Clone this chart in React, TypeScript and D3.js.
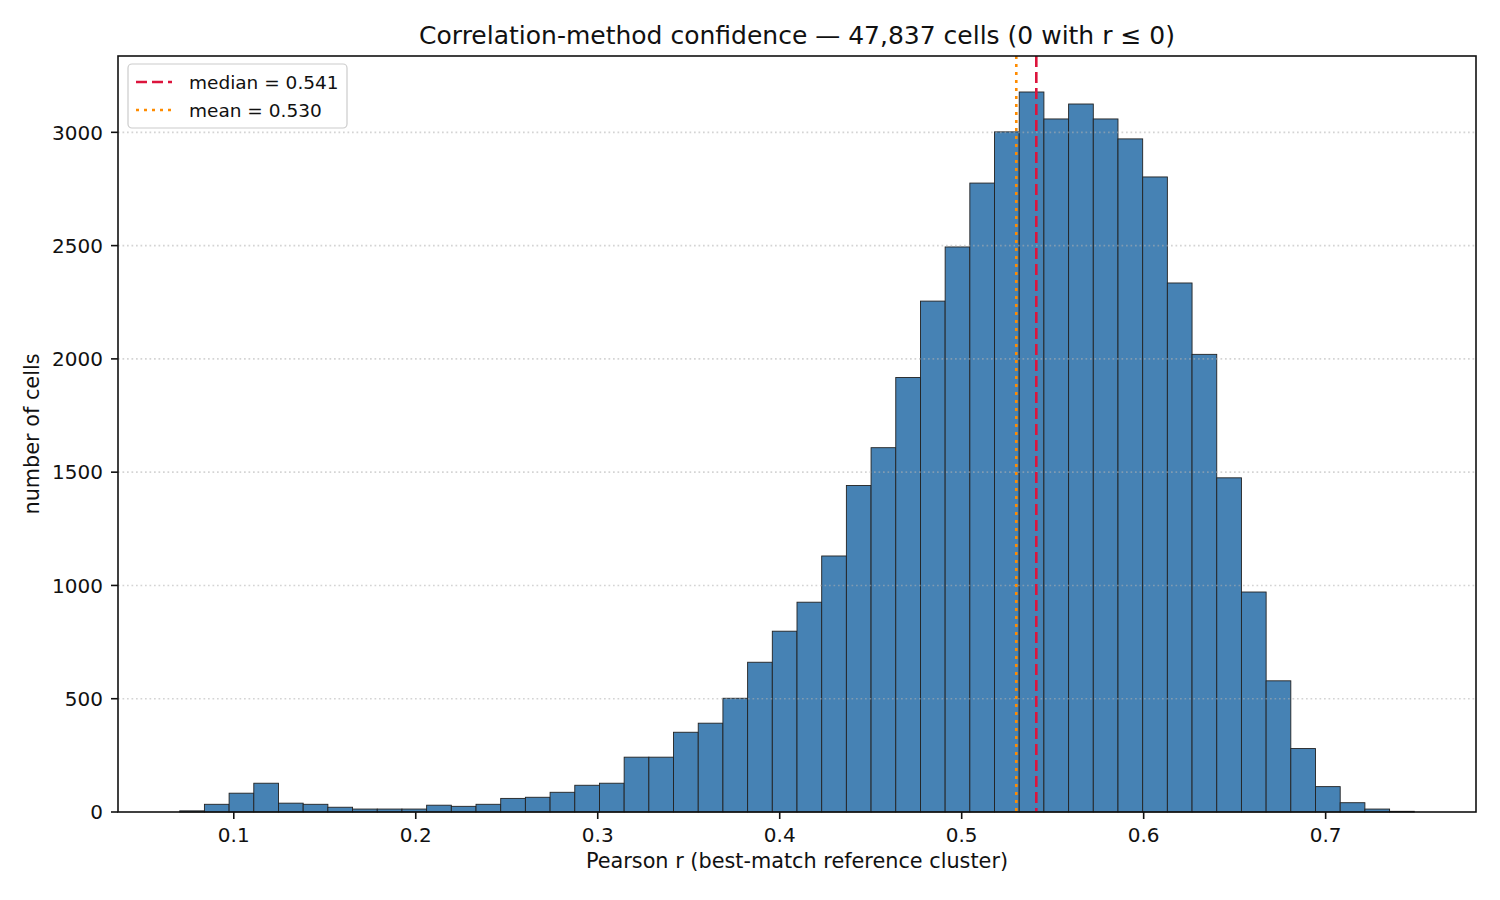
import * as d3 from 'd3'

// histogram of best-match Pearson r, 50 equal bins
const binLo = 0.0703
const binHi = 0.7487
const counts = [
  5, 34, 83, 127, 39, 34, 21, 13, 13, 13,
  30, 25, 34, 60, 65, 87, 118, 127, 242, 242,
  352, 392, 502, 661, 798, 926, 1130, 1441, 1608, 1918,
  2255, 2494, 2776, 3002, 3178, 3059, 3125, 3059, 2971, 2803,
  2335, 2020, 1475, 971, 579, 280, 112, 41, 13, 3,
]
const xTicks = [0.1, 0.2, 0.3, 0.4, 0.5, 0.6, 0.7]
const yTicks = [0, 500, 1000, 1500, 2000, 2500, 3000]
const median = 0.541
const mean = 0.53
const title = 'Correlation-method confidence — 47,837 cells (0 with r ≤ 0)'
const xLabel = 'Pearson r (best-match reference cluster)'
const yLabel = 'number of cells'

const width = 1500
const height = 900
const marginLeft = 118
const marginRight = 24
const marginTop = 56
const marginBottom = 88
const font = '"DejaVu Sans", sans-serif'

export default function App() {
  const binWidth = (binHi - binLo) / counts.length
  const pad = (binHi - binLo) * 0.05
  const x = d3.scaleLinear([binLo - pad, binHi + pad], [marginLeft, width - marginRight])
  const yMax = (d3.max(counts) as number) * 1.05
  const y = d3.scaleLinear([0, yMax], [height - marginBottom, marginTop])
  const bottom = height - marginBottom
  const right = width - marginRight

  return (
    <>
      <style>{'body{margin:0}'}</style>
      <svg width={width} height={height} viewBox={`0 0 ${width} ${height}`} fontFamily={font}>
        <rect width={width} height={height} fill="white" />
        <g fill="#4682b4" stroke="#222" strokeWidth="0.9">
          {counts.map((count, index) => {
            const x0 = x(binLo + index * binWidth)
            const x1 = x(binLo + (index + 1) * binWidth)
            return <rect key={index} x={x0} y={y(count)} width={x1 - x0} height={bottom - y(count)} />
          })}
        </g>
        <g stroke="#b0b0b0" strokeOpacity="0.55" strokeWidth="1.6" strokeDasharray="1.7,2.8">
          {yTicks.slice(1).map((tick) => (
            <line key={tick} x1={marginLeft} x2={right} y1={y(tick)} y2={y(tick)} />
          ))}
        </g>
        <line x1={x(mean)} x2={x(mean)} y1={marginTop} y2={bottom} stroke="#ff8c00" strokeWidth="2.6" strokeDasharray="3,5" />
        <line x1={x(median)} x2={x(median)} y1={marginTop} y2={bottom} stroke="#dc143c" strokeWidth="2.6" strokeDasharray="11,5" />
        <rect x={marginLeft} y={marginTop} width={right - marginLeft} height={bottom - marginTop} fill="none" stroke="#111" strokeWidth="1.6" />

        <g fontSize="20" fill="#111">
          {xTicks.map((tick) => (
            <g key={tick}>
              <line x1={x(tick)} x2={x(tick)} y1={bottom} y2={bottom + 7} stroke="#111" strokeWidth="1.6" />
              <text x={x(tick)} y={842} textAnchor="middle">{d3.format('.1f')(tick)}</text>
            </g>
          ))}
          {yTicks.map((tick) => (
            <g key={tick}>
              <line x1={marginLeft - 7} x2={marginLeft} y1={y(tick)} y2={y(tick)} stroke="#111" strokeWidth="1.6" />
              <text x={103} y={y(tick)} dy="0.36em" textAnchor="end">{tick}</text>
            </g>
          ))}
          <text x={(marginLeft + right) / 2} y={868} textAnchor="middle" fontSize="20.8">{xLabel}</text>
          <text transform={`translate(39,${(marginTop + bottom) / 2}) rotate(-90)`} textAnchor="middle" fontSize="20.8">{yLabel}</text>
        </g>
        <text x={(marginLeft + right) / 2} y={44} textAnchor="middle" fontSize="25" fill="#111">{title}</text>

        <g>
          <rect x={128} y={64} width={219} height={64} rx={4} fill="white" fillOpacity="0.8" stroke="#cccccc" strokeWidth="1.2" />
          <line x1={136} x2={172} y1={82} y2={82} stroke="#dc143c" strokeWidth="2.6" strokeDasharray="11,5" />
          <line x1={136} x2={172} y1={110} y2={110} stroke="#ff8c00" strokeWidth="2.6" strokeDasharray="3,5" />
          <text x={189} y={82} dy="0.36em" fontSize="18.5" fill="#111">{`median = ${median.toFixed(3)}`}</text>
          <text x={189} y={110} dy="0.36em" fontSize="18.5" fill="#111">{`mean = ${mean.toFixed(3)}`}</text>
        </g>
      </svg>
    </>
  )
}
